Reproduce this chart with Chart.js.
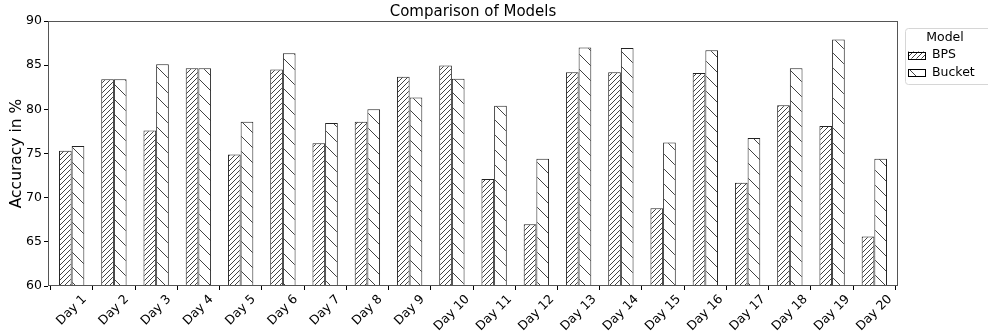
<!DOCTYPE html>
<html><head><meta charset="utf-8">
<script src="https://cdn.jsdelivr.net/npm/chart.js@4.4.0/dist/chart.umd.min.js"></script>
<style>html,body{margin:0;padding:0;background:#fff;overflow:hidden}#wrap{width:988px;height:335px;position:relative}</style>
</head><body><div id="wrap"><canvas id="c" width="988" height="335"></canvas></div>
<script>
const days = ['Day 1','Day 2','Day 3','Day 4','Day 5','Day 6','Day 7','Day 8','Day 9','Day 10','Day 11','Day 12','Day 13','Day 14','Day 15','Day 16','Day 17','Day 18','Day 19','Day 20'];
const bpsValues = [75.3, 83.4, 77.6, 84.65, 74.9, 84.5, 76.15, 78.6, 83.7, 84.95, 72.1, 67.0, 84.2, 84.2, 68.8, 84.1, 71.7, 80.45, 78.1, 65.6];
const bucketValues = [75.85, 83.4, 85.1, 84.65, 78.6, 86.35, 78.45, 80.0, 81.35, 83.45, 80.4, 74.4, 87.0, 86.95, 76.25, 86.7, 76.75, 84.65, 87.9, 74.4];
const seriesNames = ['BPS', 'Bucket'];
const yMin = 60, yMax = 90, yStep = 5;
const chartTitle = 'Comparison of Models';
const yAxisTitle = 'Accuracy in %';
const legendTitle = 'Model';

const FONT = "'DejaVu Sans', sans-serif";

function makeHatch(kind) {
  const s = 15;
  const cv = document.createElement('canvas');
  cv.width = s; cv.height = s;
  const g = cv.getContext('2d');
  g.fillStyle = '#fff'; g.fillRect(0, 0, s, s);
  g.strokeStyle = '#111'; g.lineWidth = 0.8;
  g.beginPath();
  if (kind === 'fwd') {
    for (let c = -15; c <= 30; c += 5) { g.moveTo(c, s); g.lineTo(c + s, 0); }
  } else {
    for (let c = -15; c <= 15; c += 15) { g.moveTo(c, 0); g.lineTo(c + s, s); }
  }
  g.stroke();
  return g.createPattern(cv, 'repeat');
}
const ctx = document.getElementById('c').getContext('2d');
const patBPS = makeHatch('fwd');
const patBucket = makeHatch('back');
const patterns = [patBPS, patBucket];

const PLOT = {left: 48, right: 898, top: 21, bottom: 286};

const overlay = {
  id: 'overlay',
  afterDatasetsDraw(chart) {
    const c = chart.ctx, a = chart.chartArea;
    c.save();
    c.strokeStyle = '#555'; c.lineWidth = 1;
    c.strokeRect(Math.round(a.left) + 0.5, Math.round(a.top) + 0.5, Math.round(a.right - a.left) - 1, Math.round(a.bottom - a.top) - 1);
    c.restore();
  },
  afterDraw(chart) {
    const c = chart.ctx, a = chart.chartArea, xs = chart.scales.x;
    c.save();
    // title
    c.fillStyle = '#000';
    c.font = '15px ' + FONT;
    c.textAlign = 'center'; c.textBaseline = 'middle';
    c.fillText(chartTitle, (a.left + a.right) / 2, 12);
    // x tick labels rotated 45
    c.font = '12.5px ' + FONT;
    days.forEach((d, i) => {
      const x = xs.getPixelForValue(i);
      const w = c.measureText(d).width;
      const h = 12;
      const bb = (w + h) * Math.SQRT1_2;
      const cy = a.bottom + 7 + bb / 2;
      c.save();
      c.translate(x, cy);
      c.rotate(-Math.PI / 4);
      c.textAlign = 'center'; c.textBaseline = 'middle';
      c.fillText(d, 0, 0);
      c.restore();
    });
    // legend
    const lx = 905.5, ly = 28.5, lw = 92, lh = 56;
    c.beginPath();
    c.roundRect(lx, ly, lw, lh, 3);
    c.fillStyle = '#fff'; c.fill();
    c.strokeStyle = '#d6d6d6'; c.lineWidth = 1; c.stroke();
    c.fillStyle = '#000';
    c.font = '12.5px ' + FONT;
    c.textAlign = 'center'; c.textBaseline = 'middle';
    c.fillText(legendTitle, 945, 37.5);
    c.textAlign = 'left';
    seriesNames.forEach((n, i) => {
      const yc = 55 + i * 17.5;
      c.fillStyle = patterns[i];
      c.fillRect(908, yc - 3.5, 17, 7);
      c.strokeStyle = '#000'; c.lineWidth = 1;
      c.strokeRect(908.5, Math.round(yc - 3.5) + 0.5, 17, 7);
      c.fillStyle = '#000';
      c.fillText(n, 932, yc);
    });
    c.restore();
  }
};

new Chart(ctx, {
  type: 'bar',
  data: {
    datasets: [
      { label: seriesNames[0], data: bpsValues.map((v, i) => ({x: i, y: v})), backgroundColor: patBPS, borderColor: '#222', borderWidth: 1, categoryPercentage: 0.6, barPercentage: 1.0 },
      { label: seriesNames[1], data: bucketValues.map((v, i) => ({x: i, y: v})), backgroundColor: patBucket, borderColor: '#222', borderWidth: 1, categoryPercentage: 0.6, barPercentage: 1.0 }
    ]
  },
  options: {
    responsive: false,
    animation: false,
    devicePixelRatio: 1,
    layout: { padding: { left: 0, top: PLOT.top, right: 988 - PLOT.right, bottom: 0 } },
    plugins: { legend: { display: false }, tooltip: { enabled: false }, title: { display: false } },
    scales: {
      x: {
        type: 'linear', min: -0.56, max: 19.56, offset: false,
        ticks: { display: false, stepSize: 1, includeBounds: false },
        grid: { display: true, drawOnChartArea: false, drawTicks: true, tickLength: 4, color: '#000' },
        border: { display: false },
        afterFit(s) { s.height = 335 - PLOT.bottom; }
      },
      y: {
        min: yMin, max: yMax,
        ticks: { stepSize: yStep, font: { family: FONT, size: 12.5 }, color: '#000', padding: 2 },
        grid: { display: true, drawOnChartArea: false, drawTicks: true, tickLength: 4, color: '#000' },
        border: { display: false },
        title: { display: true, text: yAxisTitle, font: { family: FONT, size: 15.5 }, color: '#000', padding: { top: 8, bottom: 0 } },
        afterFit(s) { s.width = PLOT.left; }
      }
    }
  },
  plugins: [overlay]
});
</script></body></html>
